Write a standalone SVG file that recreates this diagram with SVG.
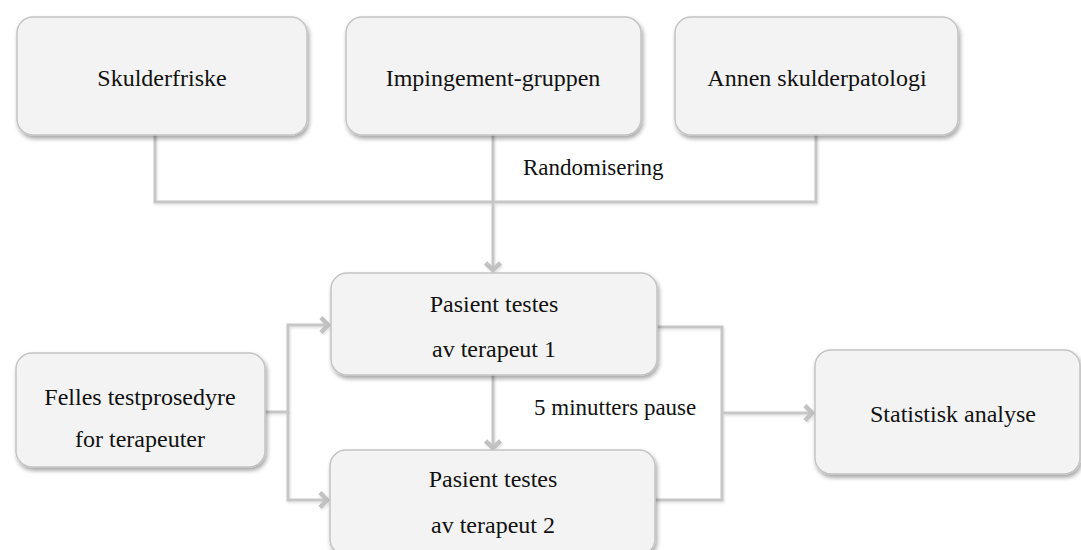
<svg xmlns="http://www.w3.org/2000/svg" width="1081" height="550" viewBox="0 0 1081 550">
<style>
.box{fill:#f3f3f3;stroke:#c4c4c4;stroke-width:1.5;filter:url(#sh)}
.t{font-family:'Liberation Serif','Times New Roman',Times,serif;font-size:24px;fill:#111;text-anchor:middle}
.lbl{font-family:'Liberation Serif','Times New Roman',Times,serif;font-size:23px;fill:#111}
.c{fill:none;stroke:#c6c6c6;stroke-width:3}
</style>
<defs>
<filter id="sh" x="-10%" y="-10%" width="125%" height="130%">
<feDropShadow dx="1.5" dy="3" stdDeviation="2" flood-color="#000" flood-opacity="0.35"/>
</filter>
<filter id="lsh" filterUnits="userSpaceOnUse" x="0" y="0" width="1081" height="550">
<feDropShadow dx="1" dy="1.5" stdDeviation="1" flood-color="#000" flood-opacity="0.12"/>
</filter>
<marker id="ah" markerWidth="16" markerHeight="16" refX="0" refY="0" orient="auto" markerUnits="userSpaceOnUse" viewBox="-8 -8 16 16" overflow="visible">
<path d="M-8,-7.5 L-1,0 L-8,7.5" fill="none" stroke="#c2c2c2" stroke-width="4.5" stroke-linejoin="miter"/>
</marker>
</defs>
<rect width="1081" height="550" fill="#fff"/>
<g id="connectors" filter="url(#lsh)">
<path class="c" d="M155,135 V202 H816 V135"/>
<path class="c" d="M493,135 V271" marker-end="url(#ah)"/>
<path class="c" d="M265,412 H288 V325 H329" marker-end="url(#ah)"/>
<path class="c" d="M288,412 V500 H328" marker-end="url(#ah)"/>
<path class="c" d="M493,375 V449" marker-end="url(#ah)"/>
<path class="c" d="M657,327 H722 V500 H655"/>
<path class="c" d="M722,413 H813" marker-end="url(#ah)"/>
</g>
<text class="lbl" x="523" y="175">Randomisering</text>
<text class="lbl" x="534" y="415">5 minutters pause</text>
<g id="n1"><rect class="box" x="17" y="17" width="290" height="118" rx="16"/><text class="t" x="162" y="86">Skulderfriske</text></g>
<g id="n2"><rect class="box" x="346" y="17" width="295" height="118" rx="16"/><text class="t" x="493" y="86">Impingement-gruppen</text></g>
<g id="n3"><rect class="box" x="675" y="17" width="283" height="118" rx="16"/><text class="t" x="817" y="86">Annen skulderpatologi</text></g>
<g id="n4"><rect class="box" x="331" y="273" width="326" height="102" rx="16"/><text class="t" x="494" y="312">Pasient testes</text><text class="t" x="494" y="357">av terapeut 1</text></g>
<g id="n5"><rect class="box" x="16" y="353" width="249" height="114" rx="16"/><text class="t" x="140" y="405">Felles testprosedyre</text><text class="t" x="140" y="447">for terapeuter</text></g>
<g id="n6"><rect class="box" x="330" y="450" width="325" height="105" rx="16"/><text class="t" x="493" y="487">Pasient testes</text><text class="t" x="493" y="533">av terapeut 2</text></g>
<g id="n7"><rect class="box" x="815" y="350" width="265" height="124" rx="16"/><text class="t" x="953" y="422">Statistisk analyse</text></g>
</svg>
